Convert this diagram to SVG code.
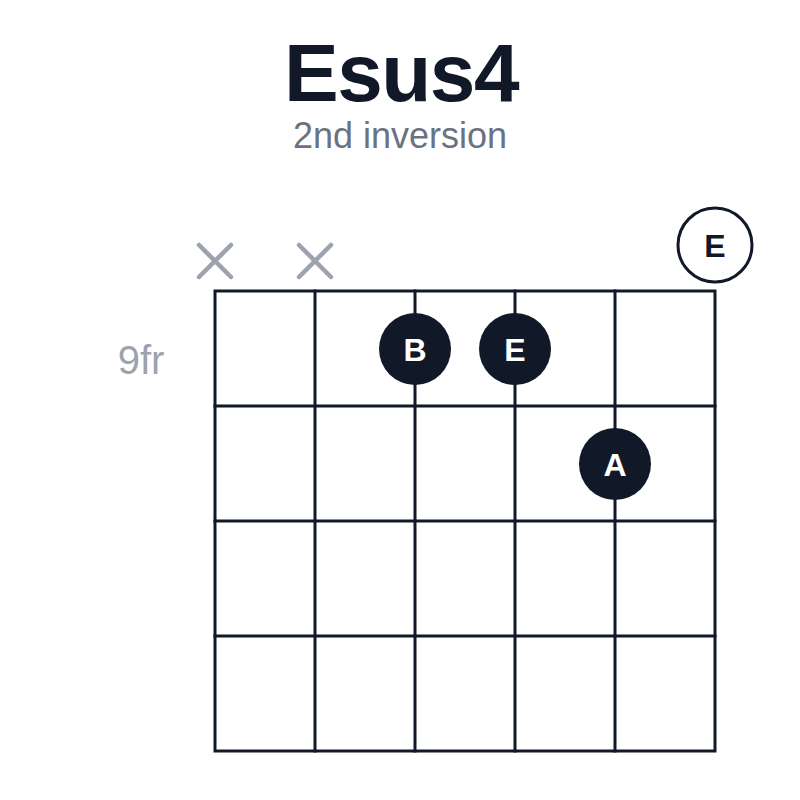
<svg xmlns="http://www.w3.org/2000/svg" width="800" height="800" viewBox="0 0 800 800">
<style>
.grid{stroke:#111827;stroke-width:3;fill:none;stroke-linecap:square}
.x{stroke:#9ca3af;stroke-width:4.5;stroke-linecap:round}
.dot{fill:#111827}
.open{fill:#fff;stroke:#111827;stroke-width:3}
.lbl{font-family:"Liberation Sans",Arial,sans-serif;font-size:32px;font-weight:bold;text-anchor:middle}
</style>
<rect width="800" height="800" fill="#fff"/>
<text x="401" y="101" font-family="Liberation Sans,Arial,sans-serif" font-size="82" font-weight="bold" fill="#111827" text-anchor="middle" letter-spacing="-1.5">Esus4</text>
<text x="400" y="148" font-family="Liberation Sans,Arial,sans-serif" font-size="36" fill="#6b7280" text-anchor="middle">2nd inversion</text>
<text x="141" y="374" font-family="Liberation Sans,Arial,sans-serif" font-size="40" fill="#9ca3af" text-anchor="middle">9fr</text>
<g id="grid" class="grid">
<rect x="215" y="291" width="500" height="460"/>
<line x1="315" y1="291" x2="315" y2="751"/>
<line x1="415" y1="291" x2="415" y2="751"/>
<line x1="515" y1="291" x2="515" y2="751"/>
<line x1="615" y1="291" x2="615" y2="751"/>
<line x1="215" y1="406" x2="715" y2="406"/>
<line x1="215" y1="521" x2="715" y2="521"/>
<line x1="215" y1="636" x2="715" y2="636"/>
</g>
<g id="mute1" class="x"><line x1="199" y1="245" x2="231" y2="277"/><line x1="231" y1="245" x2="199" y2="277"/></g>
<g id="mute2" class="x"><line x1="299" y1="245" x2="331" y2="277"/><line x1="331" y1="245" x2="299" y2="277"/></g>
<g id="openE"><circle class="open" cx="715" cy="245" r="37"/><text class="lbl" x="715" y="257" fill="#111827">E</text></g>
<g id="noteB"><circle class="dot" cx="415" cy="349" r="36"/><text class="lbl" x="415" y="361" fill="#fff">B</text></g>
<g id="noteE"><circle class="dot" cx="515" cy="349" r="36"/><text class="lbl" x="515" y="361" fill="#fff">E</text></g>
<g id="noteA"><circle class="dot" cx="615" cy="464" r="36"/><text class="lbl" x="615" y="476" fill="#fff">A</text></g>
</svg>
